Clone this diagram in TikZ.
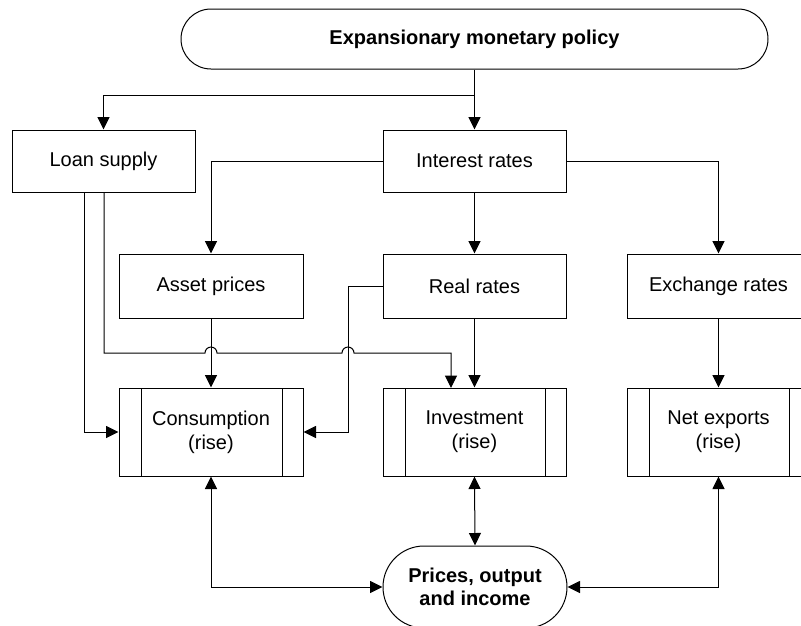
\documentclass[tikz,border=0pt]{standalone}
\usepackage{fontspec}
\setmainfont{Liberation Sans}
\usetikzlibrary{arrows.meta}
\begin{document}
\begin{tikzpicture}[x=1pt,y=-1pt,line width=1pt,
  font=\fontsize{20}{24}\selectfont,
  box/.style={draw,rectangle,inner sep=0pt,minimum width=183pt,minimum height=62pt,align=center},
  procbox/.style={draw,rectangle,inner sep=0pt,minimum width=183pt,minimum height=88pt,align=center,
    path picture={
      \draw ([xshift=22pt]path picture bounding box.north west) -- ([xshift=22pt]path picture bounding box.south west);
      \draw ([xshift=-21pt]path picture bounding box.north east) -- ([xshift=-21pt]path picture bounding box.south east);
    }},
  term/.style={draw,rectangle,inner sep=0pt,align=center,font=\fontsize{20}{23}\selectfont\bfseries},
  arr/.style={-{Triangle[length=12.5pt,width=12pt]}},
  darr/.style={{Triangle[length=12.5pt,width=12pt]}-{Triangle[length=12.5pt,width=12pt]}}
]
\fill[white] (0,0) rectangle (801,625);
\useasboundingbox (0,0) rectangle (801,625);

\node[term,minimum width=587pt,minimum height=60pt,rounded corners=30pt] (top) at (474.5,39) {Expansionary monetary policy};
\node[box] (loan) at (103.5,161) {Loan supply};
\node[box] (interest) at (474.5,161) {Interest rates};
\node[box,minimum width=184pt,minimum height=64pt] (asset) at (211,286) {Asset prices};
\node[box,minimum height=64pt] (real) at (474.5,286) {Real rates};
\node[box,minimum height=64pt] (exch) at (718.5,286) {Exchange rates};
\node[procbox,minimum width=184pt] (cons) at (211,432) {Consumption\\(rise)};
\node[procbox] (inv) at (474.5,432) {Investment\\(rise)};
\node[procbox] (netx) at (718.5,432) {Net exports\\(rise)};
\node[term,minimum width=184pt,minimum height=82pt,rounded corners=41pt] (prices) at (475,587) {Prices, output\\and income};

% from policy
\draw[arr] (top.south) -- (interest.north);
\coordinate (j1) at (474.5,95);
\draw[arr] (j1) -| (loan.north);

% from interest rates
\draw[arr] (interest.west) -| (asset.north);
\draw[arr] (interest.east) -| (exch.north);
\draw[arr] (interest.south) -- (real.north);

% down to spending boxes
\draw[arr] (asset.south) -- (cons.north);
\draw[arr] (real.south) -- (inv.north);
\draw[arr] (exch.south) -- (netx.north);

% loan supply to consumption
\coordinate (l1) at (84,192);
\draw[arr] (l1) |- (cons.west);

% loan supply to investment with hops
\coordinate (l2) at (104,192);
\coordinate (l2b) at (104,353);
\coordinate (h1) at (205,353);
\coordinate (h2) at (342,353);
\coordinate (l2c) at (451,353);
\coordinate (l2d) at (451,388);
\draw[arr] (l2) -- (l2b) -- (h1) arc (180:0:6pt) -- (h2) arc (180:0:6pt) -- (l2c) -- (l2d);

% real rates to consumption
\coordinate (r1) at (348,286);
\draw[arr] (real.west) -- (r1) |- (cons.east);

% to prices
\draw[darr] (cons.south) |- (prices.west);
\draw[darr] (inv.south) -- (prices.north);
\draw[darr] (netx.south) |- (prices.east);
\end{tikzpicture}
\end{document}
